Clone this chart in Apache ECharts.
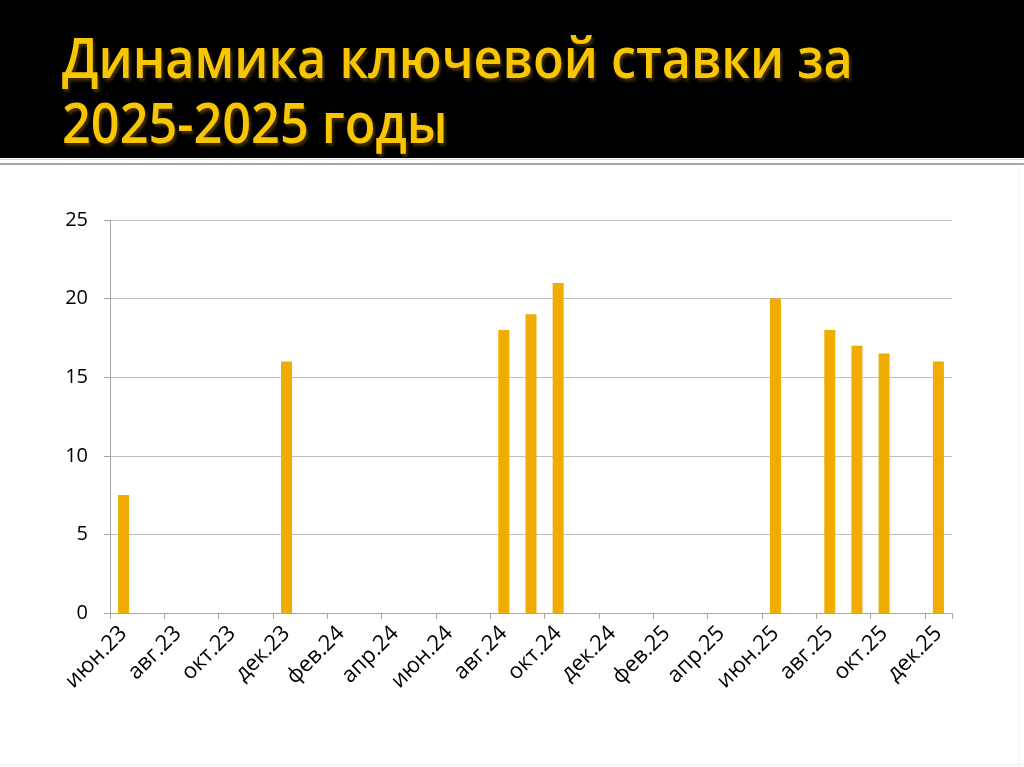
<!DOCTYPE html>
<html lang="ru">
<head>
    <meta charset="UTF-8">
    <title>Динамика ключевой ставки</title>
    <script src="https://cdn.jsdelivr.net/npm/echarts@6/dist/echarts.min.js"></script>
    <style>
        html, body {
            margin: 0;
            padding: 0;
            background: #ffffff;
        }

        #chart {
            width: 1024px;
            height: 767px;
        }
    </style>
</head>
<body>
<div id="chart"></div>

<script type="text/javascript">
    // месяцы по оси X (подписи через один)
    var months = ['июн.23', 'июл.23', 'авг.23', 'сен.23', 'окт.23', 'ноя.23', 'дек.23',
        'янв.24', 'фев.24', 'мар.24', 'апр.24', 'май.24', 'июн.24', 'июл.24', 'авг.24',
        'сен.24', 'окт.24', 'ноя.24', 'дек.24', 'янв.25', 'фев.25', 'мар.25', 'апр.25',
        'май.25', 'июн.25', 'июл.25', 'авг.25', 'сен.25', 'окт.25', 'ноя.25', 'дек.25'];
    // ключевая ставка, % (пустые месяцы = null)
    var rates = [7.5, null, null, null, null, null, 16,
        null, null, null, null, null, null, null, 18,
        19, 21, null, null, null, null, null, null,
        null, 20, null, 18, 17, 16.5, null, 16];
    var yTicks = {min: 0, max: 25, step: 5};
    var titleLines = ['Динамика ключевой ставки за', '2025-2025 годы'];

    var chart = echarts.init(document.getElementById('chart'));

    var option = {
        backgroundColor: '#ffffff',
        animation: false,
        graphic: [
            {
                type: 'rect',
                shape: {x: 0, y: 0, width: 1024, height: 158},
                style: {fill: '#000000'},
                z: 0
            },
            {
                type: 'rect',
                shape: {x: 0, y: 159, width: 1024, height: 1},
                style: {fill: '#d9d9d9'}
            },
            {
                type: 'rect',
                shape: {x: 0, y: 163, width: 1024, height: 2},
                style: {fill: '#a6a6a6'}
            },
            {
                type: 'rect',
                shape: {x: 1018, y: 166, width: 1, height: 601},
                style: {fill: '#f3f3f3'}
            },
            {
                type: 'rect',
                shape: {x: 0, y: 764, width: 1024, height: 1},
                style: {fill: '#f3f3f3'}
            },
            {
                type: 'text',
                x: 62,
                y: 30,
                scaleX: 0.9,
                style: {
                    text: titleLines.join('\n'),
                    fill: '#F7C600',
                    font: '600 56px "Open Sans"',
                    lineHeight: 65,
                    textShadowColor: 'rgba(70,50,0,0.95)',
                    textShadowOffsetX: 2,
                    textShadowOffsetY: 3,
                    textShadowBlur: 3
                }
            }
        ],
        grid: {
            left: 110,
            right: 72,
            top: 220,
            bottom: 154,
            containLabel: false
        },
        xAxis: {
            type: 'category',
            data: months,
            boundaryGap: true,
            axisLine: {lineStyle: {color: '#a6a6a6', width: 1}},
            axisTick: {show: true, interval: 1, length: 6, lineStyle: {color: '#a6a6a6'}},
            axisLabel: {
                interval: 1,
                rotate: 45,
                margin: 17,
                color: '#000000',
                fontFamily: '"Open Sans"',
                fontSize: 22
            },
            splitLine: {show: false}
        },
        yAxis: {
            type: 'value',
            min: yTicks.min,
            max: yTicks.max,
            interval: yTicks.step,
            axisLine: {show: true, lineStyle: {color: '#a6a6a6', width: 1}},
            axisTick: {show: true, length: 6, lineStyle: {color: '#a6a6a6'}},
            axisLabel: {
                margin: 22,
                color: '#000000',
                fontFamily: '"Open Sans"',
                fontSize: 20
            },
            splitLine: {lineStyle: {color: '#bfbfbf', width: 1}}
        },
        series: [
            {
                name: 'Ключевая ставка',
                type: 'bar',
                data: rates,
                barWidth: 11,
                itemStyle: {color: '#F0AC00'}
            }
        ]
    };

    chart.setOption(option);
</script>
</body>
</html>
